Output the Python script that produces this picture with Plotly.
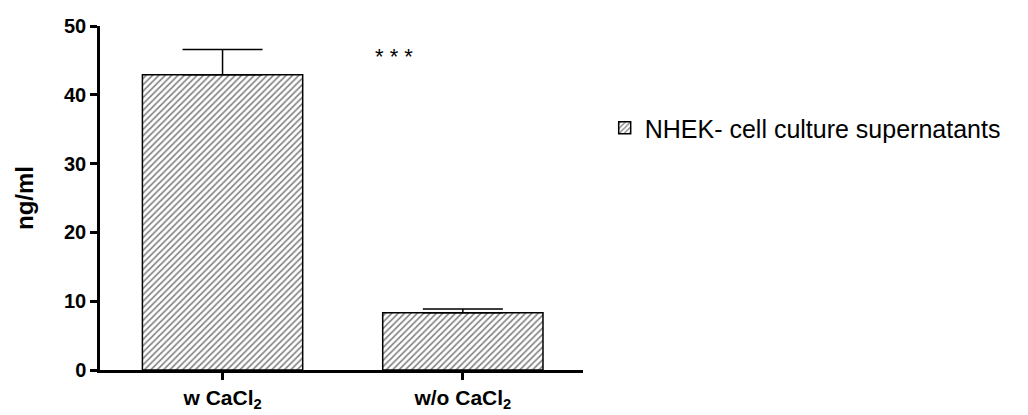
import plotly.graph_objects as go

categories = ["w CaCl<sub>2</sub>", "w/o CaCl<sub>2</sub>"]
values = [42.9, 8.33]
errors_up = [3.7, 0.53]
series_name = "NHEK- cell culture supernatants"
y_ticks = [0, 10, 20, 30, 40, 50]
significance = "* * *"

fig = go.Figure()
fig.add_trace(go.Bar(
    x=categories,
    y=values,
    name=series_name,
    showlegend=True,
    marker=dict(
        color="white",
        line=dict(color="black", width=1.5),
        pattern=dict(shape="/", size=4.5, solidity=0.35, fgcolor="black", bgcolor="white"),
    ),
    error_y=dict(type="data", array=errors_up, arrayminus=[0, 0], symmetric=False,
                 color="black", thickness=1.5, width=40),
))

fig.add_annotation(x=0.715, y=45.6, xref="x", yref="y", text=significance, showarrow=False,
                   font=dict(family="Liberation Sans", size=22, color="black"))

fig.update_layout(
    width=1020, height=407,
    margin=dict(l=92, r=445, t=18, b=45, autoexpand=False),
    plot_bgcolor="white", paper_bgcolor="white",
    bargap=0.333,
    font=dict(family="Liberation Sans", color="black"),
    legend=dict(xref="container", yref="container", x=0.585, y=0.705,
                xanchor="left", yanchor="middle",
                font=dict(family="Liberation Sans", size=25, color="black"),
                bgcolor="rgba(0,0,0,0)"),
)
fig.update_xaxes(
    range=[-0.51, 1.5], showline=True, linecolor="black", linewidth=2.5,
    ticks="outside", ticklen=7, tickwidth=2.5, tickcolor="black",
    tickfont=dict(family="Liberation Sans", size=21, weight="bold"),
    showgrid=False, zeroline=False, automargin=False,
)
fig.update_yaxes(
    range=[0, 50], tickvals=y_ticks, showline=True, linecolor="black", linewidth=2.5,
    ticks="outside", ticklen=7, tickwidth=2.5, tickcolor="black",
    tickfont=dict(family="Liberation Sans", size=20, weight="bold"),
    title=dict(text="ng/ml", font=dict(family="Liberation Sans", size=24, weight="bold"), standoff=24),
    showgrid=False, zeroline=False, automargin=False,
)

fig.write_html("out.html")
